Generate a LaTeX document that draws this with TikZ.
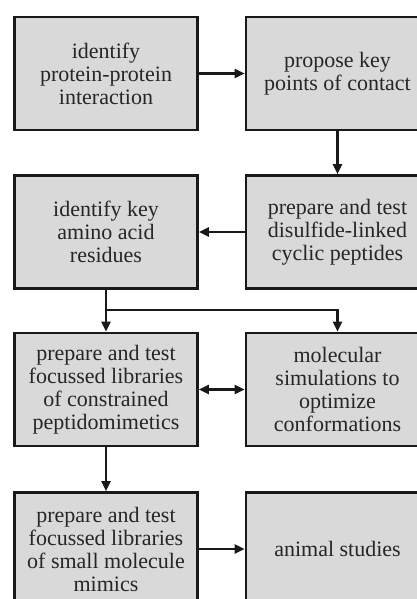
\documentclass[tikz,border=0pt]{standalone}
\usepackage{fontspec}
\setmainfont{Liberation Serif}
\usetikzlibrary{arrows.meta}
\begin{document}
\begin{tikzpicture}[x=1pt,y=1pt,
  stepbox/.style={draw=black!90,line width=2.6pt,fill=black!15,minimum width=183pt,minimum height=113pt,
    inner sep=0pt,align=center,font=\fontsize{22}{23}\selectfont,text=black!85},
  conn/.style={line width=2.2pt,draw=black!90,-{Triangle[length=10pt,width=9pt]}},
  dconn/.style={line width=2.2pt,draw=black!90,{Triangle[length=10pt,width=9pt]}-{Triangle[length=10pt,width=9pt]}}]
\useasboundingbox (0,0) rectangle (417,-599);
\clip (0,0) rectangle (417,-599);
\node[stepbox] (a) at (106,-73.5) {identify\\protein-protein\\interaction};
\node[stepbox] (b) at (337.5,-73.5) {propose key\\points of contact};
\node[stepbox] (c) at (337.5,-232) {prepare and test\\disulfide-linked\\cyclic peptides};
\node[stepbox] (d) at (106,-232) {identify key\\amino acid\\residues};
\node[stepbox] (e) at (106,-389.5) {prepare and test\\focussed libraries\\of constrained\\peptidomimetics};
\node[stepbox] (f) at (337.5,-389.5) {molecular\\simulations to\\optimize\\conformations};
\node[stepbox] (g) at (106,-549) {prepare and test\\focussed libraries\\of small molecule\\mimics};
\node[stepbox] (h) at (337.5,-549) {animal studies};
\coordinate (j) at (106,-310);
\draw[conn] (a) -- (b);
\draw[conn] (b) -- (c);
\draw[conn] (c) -- (d);
\draw[conn] (d) -- (e);
\draw[conn] (j) -| (f.north);
\draw[dconn] (e) -- (f);
\draw[conn] (e) -- (g);
\draw[conn] (g) -- (h);
\end{tikzpicture}
\end{document}
